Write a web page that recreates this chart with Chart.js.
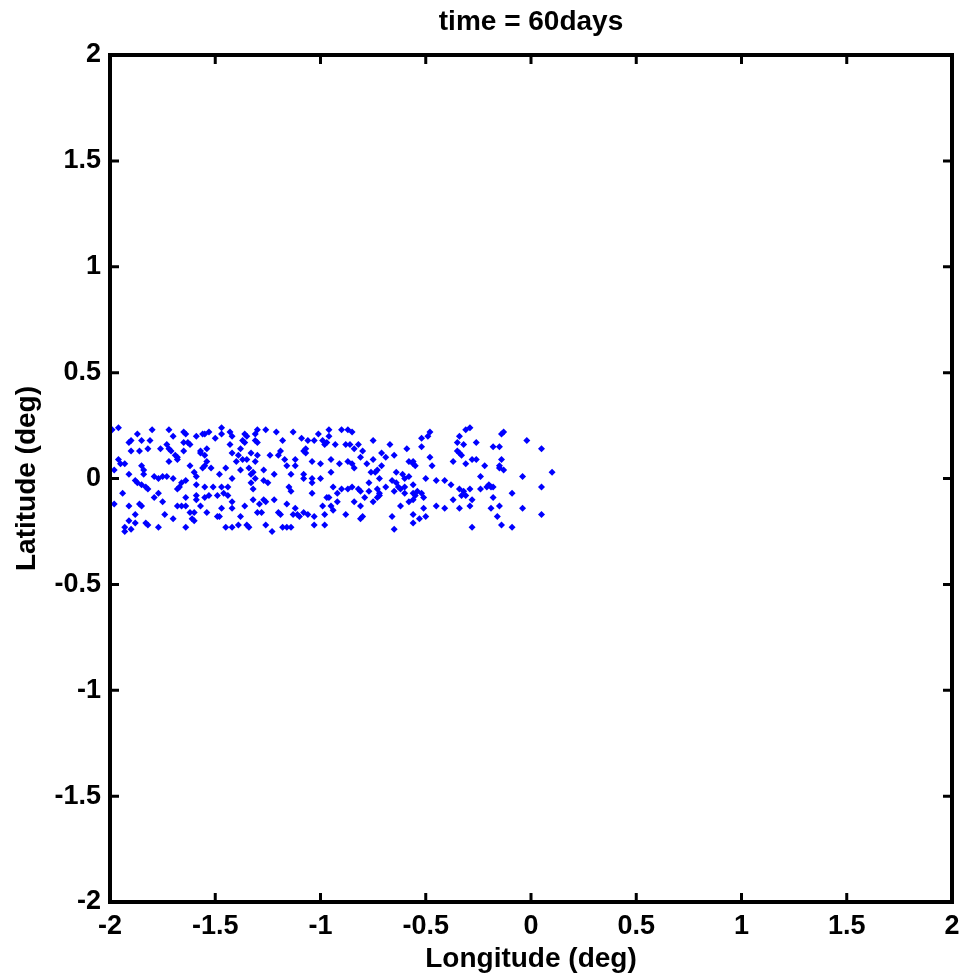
<!DOCTYPE html>
<html>
<head>
<meta charset="utf-8">
<script src="https://cdn.jsdelivr.net/npm/chart.js@4.4.0/dist/chart.umd.min.js"></script>
<style>
  html, body { margin: 0; padding: 0; background: #fff; }
</style>
</head>
<body>
<canvas id="graficoDeriva" width="961" height="976"></canvas>
<script>
const tituloGrafico = 'time = 60days';
const rotuloX = 'Longitude (deg)';
const rotuloY = 'Latitude (deg)';
const ticksX = ['-2', '-1.5', '-1', '-0.5', '0', '0.5', '1', '1.5', '2'];
const ticksY = ['-2', '-1.5', '-1', '-0.5', '0', '0.5', '1', '1.5', '2'];

// particle positions (deg)
const longitude = [
  -1.96,-1.99,-1.72,-1.80,-1.87,-1.65,-1.70,-1.64,-1.59,-1.56,
  -1.55,-1.53,-1.50,-1.90,-1.91,-1.85,-1.81,-1.73,-1.65,-1.63,
  -1.62,-1.90,-1.86,-1.82,-1.76,-1.72,-1.71,-1.65,-1.57,-1.54,
  -1.57,-1.55,-1.96,-1.95,-1.93,-1.69,-1.68,-1.68,-1.72,-1.54,
  -1.98,-1.91,-1.85,-1.84,-1.84,-1.79,-1.77,-1.75,-1.73,-1.70,
  -1.64,-1.62,-1.60,-1.59,-1.56,-1.55,-1.52,-1.88,-1.87,-1.85,
  -1.83,-1.82,-1.68,-1.67,-1.66,-1.59,-1.55,-1.51,-1.94,-1.79,
  -1.77,-1.75,-1.64,-1.59,-1.59,-1.55,-1.53,-1.98,-1.91,-1.86,
  -1.85,-1.68,-1.66,-1.64,-1.62,-1.60,-1.57,-1.88,-1.74,-1.70,
  -1.61,-1.54,-1.49,-1.91,-1.88,-1.83,-1.82,-1.77,-1.64,-1.60,
  -1.93,-1.93,-1.90,
  -1.47,-1.47,-1.43,-1.42,-1.36,-1.35,-1.37,-1.36,-1.30,-1.31,
  -1.26,-1.31,-1.30,-1.21,-1.13,-1.18,-1.09,-1.06,-1.03,-1.01,
  -0.99,-0.98,-1.43,-1.38,-1.42,-1.39,-1.37,-1.35,-1.33,-1.30,
  -1.40,-1.31,-1.24,-1.19,-1.20,-1.17,-1.12,-1.16,-1.12,-1.08,
  -1.07,-1.07,-1.04,-1.00,-1.48,-1.45,-1.38,-1.34,-1.32,-1.33,
  -1.31,-1.27,-1.22,-1.14,-1.08,-1.08,-1.04,-1.04,-1.00,-1.42,
  -1.33,-1.32,-1.27,-1.25,-1.15,-1.14,-1.47,-1.44,-1.49,-1.46,
  -1.44,-1.42,-1.42,-1.47,-1.36,-1.32,-1.29,-1.27,-1.26,-1.22,
  -1.16,-1.12,-1.08,-1.04,-0.97,-0.99,-1.48,-1.38,-1.30,-1.28,
  -1.20,-1.19,-1.13,-1.11,-1.10,-1.06,-1.03,-0.98,-1.45,-1.42,
  -1.39,-1.35,-1.34,-1.26,-1.23,-1.18,-1.16,-1.14,-1.03,-0.98,
  -0.96,-0.90,-0.87,-0.85,-0.96,-0.97,-0.93,-0.88,-0.86,-0.82,
  -0.84,-0.80,-0.75,-0.67,-0.59,-0.52,-0.49,-0.48,-0.52,-0.95,
  -0.91,-0.87,-0.85,-0.84,-0.81,-0.78,-0.75,-0.71,-0.69,-0.65,
  -0.58,-0.56,-0.56,-0.55,-0.48,-0.47,-0.95,-0.76,-0.74,-0.73,
  -0.71,-0.64,-0.61,-0.60,-0.58,-0.50,-0.45,-0.77,-0.72,-0.66,
  -0.64,-0.63,-0.62,-0.60,-0.56,-0.94,-0.90,-0.87,-0.85,-0.82,
  -0.81,-0.77,-0.73,-0.69,-0.96,-0.92,-0.92,-0.95,-0.94,-0.84,
  -0.81,-0.79,-0.75,-0.73,-0.72,-0.72,-0.65,-0.60,-0.56,-0.55,
  -0.56,-0.54,-0.52,-0.51,-0.58,-0.62,-0.45,-0.51,-0.88,-0.81,
  -0.80,-0.66,-0.56,-0.56,-0.53,-0.50,-0.65,
  -0.31,-0.29,-0.34,-0.35,-0.32,-0.26,-0.14,-0.13,-0.18,-0.15,
  -0.02, 0.05,-0.35,-0.34,-0.33,-0.37,-0.31,-0.28,-0.26,-0.22,
  -0.14,-0.15,-0.15,-0.13, 0.10,-0.41,-0.38,-0.34,-0.32,-0.31,
  -0.33,-0.29,-0.28,-0.24,-0.24,-0.21,-0.20,-0.19,-0.18,-0.18,
  -0.09,-0.04, 0.05,-0.41,-0.34,-0.29,-0.19,-0.15,-0.04, 0.05,
  -0.16,-0.14,-0.09,-0.28,-0.37
];
const latitude = [
  0.24, 0.23, 0.23, 0.23, 0.21, 0.22, 0.20, 0.21, 0.20, 0.21,
  0.21, 0.22, 0.19, 0.18, 0.17, 0.18, 0.18, 0.16, 0.17, 0.17,
  0.16, 0.13, 0.13, 0.14, 0.14, 0.14, 0.13, 0.13, 0.13, 0.14,
  0.12, 0.11, 0.09, 0.07, 0.07, 0.11, 0.10, 0.09, 0.08, 0.08,
  0.04, 0.02, 0.06, 0.04, 0.02, 0.01, 0.00, 0.01, 0.01, 0.00,
  -0.01, 0.06, 0.03, 0.01, 0.05, 0.06, 0.05,-0.01,-0.02,-0.03,
  -0.04,-0.05,-0.05,-0.04,-0.02,-0.03,-0.04,-0.04,-0.07,-0.09,
  -0.07,-0.11,-0.09,-0.08,-0.10,-0.09,-0.08,-0.12,-0.13,-0.12,
  -0.13,-0.13,-0.13,-0.13,-0.16,-0.16,-0.13,-0.17,-0.17,-0.19,
  -0.19,-0.16,-0.18,-0.20,-0.21,-0.21,-0.22,-0.23,-0.23,-0.20,
  -0.23,-0.25,-0.24,
  0.24, 0.21, 0.22, 0.20, 0.21, 0.20, 0.18, 0.17, 0.23, 0.21,
  0.23, 0.18, 0.17, 0.22, 0.22, 0.18, 0.19, 0.18, 0.18, 0.21,
  0.18, 0.16, 0.16, 0.14, 0.12, 0.11, 0.09, 0.09, 0.12, 0.11,
  0.08, 0.08, 0.11, 0.13, 0.11, 0.09, 0.09, 0.06, 0.06, 0.13,
  0.12, 0.14, 0.08, 0.07, 0.02, 0.05, 0.04, 0.05, 0.03, 0.02,
  0.00, 0.04, 0.02, 0.02, 0.02, 0.00, 0.00,-0.02, 0.00, 0.00,
  -0.02,-0.05,-0.01,-0.02,-0.04,-0.06,-0.04,-0.04,-0.08,-0.07,
  -0.08,-0.11,-0.14,-0.14,-0.13,-0.10,-0.12,-0.10,-0.11,-0.10,
  -0.12,-0.14,-0.16,-0.07,-0.09,-0.13,-0.18,-0.18,-0.16,-0.16,
  -0.16,-0.17,-0.17,-0.17,-0.18,-0.17,-0.18,-0.17,-0.23,-0.23,
  -0.22,-0.22,-0.23,-0.22,-0.25,-0.23,-0.23,-0.23,-0.22,-0.22,
  0.23, 0.23, 0.23, 0.22, 0.20, 0.17, 0.16, 0.16, 0.16, 0.16,
  0.14, 0.13, 0.18, 0.16, 0.14, 0.19, 0.20, 0.22, 0.15, 0.09,
  0.07, 0.08, 0.07, 0.05, 0.10, 0.07, 0.09, 0.12, 0.10, 0.11,
  0.08, 0.08, 0.07, 0.06, 0.10, 0.06, 0.03, 0.03, 0.03, 0.04,
  0.06, 0.03, 0.02, 0.00, 0.01, 0.00,-0.01,-0.02, 0.00,-0.01,
  -0.02,-0.04,-0.05,-0.04,-0.03,-0.04,-0.05,-0.05,-0.04,-0.05,
  -0.06,-0.06,-0.05,-0.04,-0.09,-0.07,-0.11,-0.13,-0.15,-0.11,
  -0.13,-0.09,-0.11,-0.09,-0.08,-0.07,-0.06,-0.07,-0.07,-0.08,
  -0.10,-0.06,-0.07,-0.09,-0.11,-0.13,-0.13,-0.14,-0.17,-0.19,
  -0.18,-0.18,-0.17,-0.21,-0.19,-0.18,-0.24,
  0.23, 0.24, 0.20, 0.17, 0.16, 0.17, 0.21, 0.22, 0.15, 0.15,
  0.18, 0.14, 0.13, 0.12, 0.11, 0.08, 0.07, 0.09, 0.09, 0.06,
  0.09, 0.06, 0.05, 0.04, 0.03,-0.01,-0.03,-0.05,-0.06,-0.08,
  -0.08,-0.05,-0.10, 0.01,-0.05,-0.04,-0.03,-0.04,-0.04,-0.09,
  -0.07, 0.01,-0.04,-0.14,-0.14,-0.13,-0.14,-0.13,-0.14,-0.17,
  -0.18,-0.22,-0.23,-0.23,-0.10
];

const fonte = 'Liberation Sans, Arial, Helvetica, sans-serif';
Chart.defaults.font.family = fonte;
Chart.defaults.color = '#000';

// matlab style box with ticks pointing inwards
const caixaEixos = {
  id: 'caixaEixos',
  afterDraw(chart) {
    const { ctx, chartArea: a, scales: { x, y } } = chart;
    const tam = 9;
    ctx.save();
    ctx.strokeStyle = '#000';
    ctx.lineWidth = 3;
    ctx.beginPath();
    x.ticks.forEach(t => {
      const px = x.getPixelForValue(t.value);
      ctx.moveTo(px, a.bottom); ctx.lineTo(px, a.bottom - tam);
      ctx.moveTo(px, a.top); ctx.lineTo(px, a.top + tam);
    });
    y.ticks.forEach(t => {
      const py = y.getPixelForValue(t.value);
      ctx.moveTo(a.left, py); ctx.lineTo(a.left + tam, py);
      ctx.moveTo(a.right, py); ctx.lineTo(a.right - tam, py);
    });
    ctx.stroke();
    ctx.lineWidth = 4;
    ctx.strokeRect(a.left, a.top, a.right - a.left, a.bottom - a.top);
    ctx.restore();
  }
};

const pontos = longitude.map((lon, i) => ({ x: lon, y: latitude[i] }));

const graficoDeriva = new Chart(document.getElementById('graficoDeriva'), {
  type: 'scatter',
  data: {
    datasets: [{
      label: 'particles',
      data: pontos,
      pointStyle: 'rectRot',
      pointRadius: 3.5,
      pointBorderWidth: 0,
      backgroundColor: '#0000ff',
      borderColor: '#0000ff'
    }]
  },
  options: {
    responsive: false,
    animation: false,
    layout: { padding: { left: 0, right: 9, top: 0, bottom: 0 } },
    plugins: {
      legend: { display: false },
      tooltip: { enabled: false },
      title: {
        display: true,
        fullSize: false,
        text: tituloGrafico,
        color: '#000',
        font: { size: 28, weight: 'bold', lineHeight: 1 },
        padding: { top: 8, bottom: 19 }
      }
    },
    scales: {
      x: {
        type: 'linear',
        min: -2, max: 2,
        grid: { display: false, drawTicks: false },
        border: { display: false },
        ticks: {
          stepSize: 0.5, autoSkip: false, maxRotation: 0, padding: 8,
          font: { size: 27, weight: 'bold' },
          callback: (v, i) => ticksX[i]
        },
        title: {
          display: true, text: rotuloX,
          font: { size: 28, weight: 'bold' },
          padding: { top: 0, bottom: 0 }
        },
        afterFit: s => {
          s.height = 74;
          s.paddingLeft = 0;
          s.paddingRight = 0;
        }
      },
      y: {
        type: 'linear',
        min: -2, max: 2,
        grid: { display: false, drawTicks: false },
        border: { display: false },
        ticks: {
          stepSize: 0.5, autoSkip: false, padding: 9,
          font: { size: 27, weight: 'bold' },
          callback: (v, i) => ticksY[i]
        },
        title: {
          display: true, text: rotuloY,
          font: { size: 28, weight: 'bold' },
          padding: { top: 10, bottom: 0 }
        },
        afterFit: s => { s.width = 110; }
      }
    }
  },
  plugins: [caixaEixos]
});
</script>
</body>
</html>
